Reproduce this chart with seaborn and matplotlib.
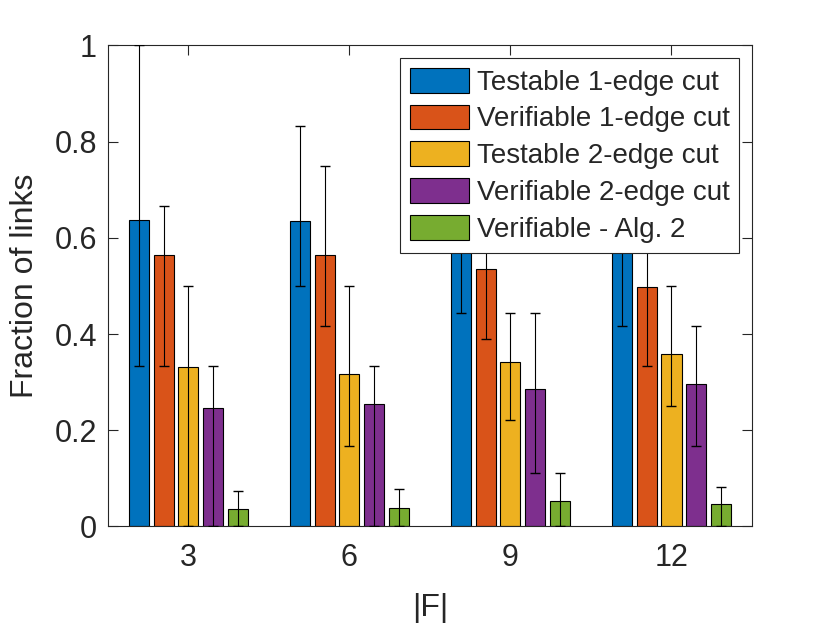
import numpy as np
import pandas as pd
import matplotlib
matplotlib.use("Agg")
import matplotlib.pyplot as plt
import seaborn as sns

# |F| groups and the five methods
groups = ["3", "6", "9", "12"]
methods = ["Testable 1-edge cut", "Verifiable 1-edge cut", "Testable 2-edge cut",
           "Verifiable 2-edge cut", "Verifiable - Alg. 2"]
colors = ["#0072BD", "#D95319", "#EDB120", "#7E2F8E", "#77AC30"]

# bar heights (rows = methods, cols = groups)
testable_1 = [0.637, 0.635, 0.61, 0.60]
verifiable_1 = [0.564, 0.565, 0.535, 0.498]
testable_2 = [0.331, 0.317, 0.342, 0.359]
verifiable_2 = [0.247, 0.254, 0.286, 0.296]
verifiable_alg2 = [0.037, 0.039, 0.052, 0.047]

# error bar ends (lower / upper)
low_t1 = [0.333, 0.5, 0.444, 0.417]
up_t1 = [1.0, 0.833, 0.78, 0.78]
low_v1 = [0.333, 0.417, 0.389, 0.333]
up_v1 = [0.667, 0.75, 0.68, 0.667]
low_t2 = [0.0, 0.167, 0.222, 0.25]
up_t2 = [0.5, 0.5, 0.444, 0.5]
low_v2 = [0.0, 0.0, 0.111, 0.167]
up_v2 = [0.333, 0.333, 0.444, 0.417]
low_a2 = [0.0, 0.0, 0.0, 0.0]
up_a2 = [0.074, 0.077, 0.111, 0.083]

heights = [testable_1, verifiable_1, testable_2, verifiable_2, verifiable_alg2]
lows = [low_t1, low_v1, low_t2, low_v2, low_a2]
ups = [up_t1, up_v1, up_t2, up_v2, up_a2]

rows = []
for m, h in zip(methods, heights):
    for g, v in zip(groups, h):
        rows.append({"F": g, "frac": v, "method": m})
df = pd.DataFrame(rows)

sns.set_theme(style="white")
plt.rcParams["font.family"] = ["Liberation Sans", "DejaVu Sans"]

fig = plt.figure(figsize=(8.3, 6.23), dpi=100)
ax = fig.add_axes([0.130, 0.155, 0.776, 0.772])

sns.barplot(data=df, x="F", y="frac", hue="method", order=groups, hue_order=methods,
            palette=colors, width=0.77, gap=0.19, errorbar=None, saturation=1,
            edgecolor="black", linewidth=0.8, ax=ax)

# error bars on top of the seaborn bars
bar_conts = list(ax.containers)
for i, cont in enumerate(bar_conts):
    xs = [b.get_x() + b.get_width() / 2 for b in cont]
    h = np.array(heights[i])
    yerr = [h - np.array(lows[i]), np.array(ups[i]) - h]
    ax.errorbar(xs, h, yerr=yerr, fmt="none", ecolor="black", elinewidth=0.8,
                capsize=3.8, capthick=1.0, zorder=3)

ax.set_xlim(-0.5, 3.5)
ax.set_ylim(0, 1)
ax.set_yticks([0, 0.2, 0.4, 0.6, 0.8, 1.0])
ax.set_yticklabels(["0", "0.2", "0.4", "0.6", "0.8", "1"])
ax.set_xlabel("|F|", fontsize=23, color="#262626", labelpad=14)
ax.set_ylabel("Fraction of links", fontsize=23, color="#262626", labelpad=10)
ax.tick_params(axis="both", which="both", direction="in", length=7, width=0.8,
               colors="#262626", labelsize=22, top=True, right=True,
               bottom=True, left=True)
ax.tick_params(axis="x", pad=12)
ax.tick_params(axis="y", pad=8)
for sp in ax.spines.values():
    sp.set_visible(True)
    sp.set_color("#262626")
    sp.set_linewidth(0.8)

ax.legend(loc="upper right", fontsize=20, frameon=True, fancybox=False,
          edgecolor="#262626", framealpha=1, handlelength=2.1, handleheight=1.0,
          labelspacing=0.32, handletextpad=0.3, borderpad=0.35, borderaxespad=0.45)
ax.get_legend().get_frame().set_linewidth(0.8)

fig.savefig("out.png", dpi=100)
